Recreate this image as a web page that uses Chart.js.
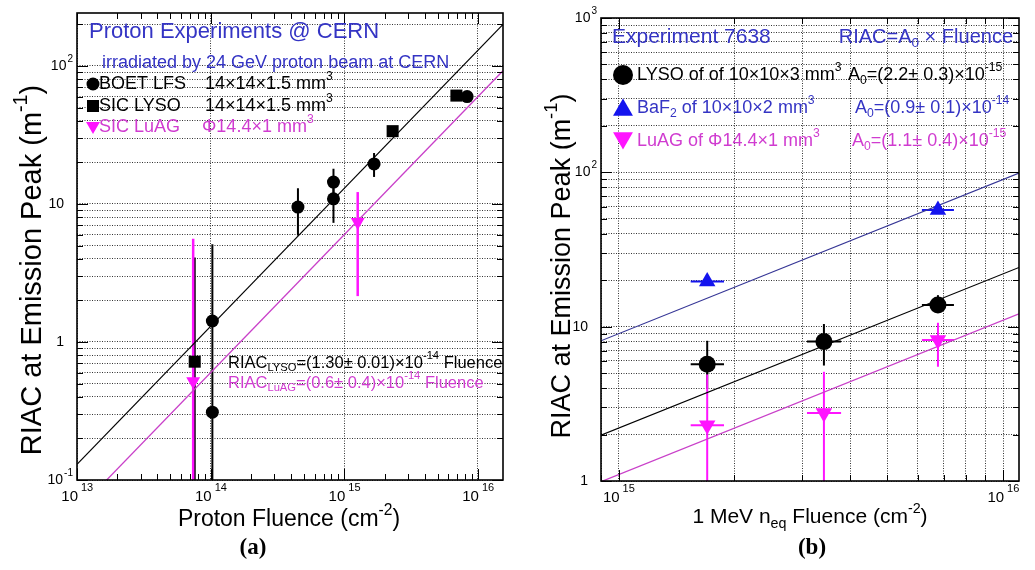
<!DOCTYPE html>
<html><head><meta charset="utf-8">
<script src="https://cdn.jsdelivr.net/npm/chart.js@4/dist/chart.umd.min.js"></script>
<style>
html,body{margin:0;padding:0;background:#fff;}
#wrap{position:relative;width:1035px;height:570px;overflow:hidden;background:#fff;}
canvas{position:absolute;top:0;}
#ca{left:0;} #cb{left:517px;}
</style></head><body>
<div id="wrap"><canvas id="ca" width="517" height="570"></canvas><canvas id="cb" width="518" height="570"></canvas></div>
<script>
// ---------------- Panel (a) data ----------------
const aBoetFluence = [1.03e14, 1.03e14, 4.5e14, 8.3e14, 8.3e14, 1.67e15, 8.3e15];
const aBoetRiac    = [1.42, 0.31, 9.5, 10.9, 14.4, 19.5, 60];
const aBoetLow     = [0.01, 0.31, 5.9, 7.3, 10.9, 15.7, 60];
const aBoetHigh    = [5.1, 0.31, 13.0, 14.4, 18.0, 23.4, 60];
const aLysoFluence = [7.6e13, 2.3e15, 6.9e15];
const aLysoRiac    = [0.72, 33.7, 61];
const aLysoLow     = [0.01, 33.7, 61];
const aLysoHigh    = [4.1, 33.7, 61];
const aLuagFluence = [7.4e13, 1.26e15];
const aLuagRiac    = [0.52, 7.4];
const aLuagLow     = [0.01, 2.15];
const aLuagHigh    = [5.6, 12.2];
const aFitA0Lyso = 1.30e-14;
const aFitA0Luag = 0.6e-14;
const aFitFluence = [1e13, 1.54e16];
const aXRange = [1e13, 1.54e16];
const aYRange = [0.1, 242];
const aXTickValues = [1e13, 1e14, 1e15, 1e16];
const aXTickLabels = [['10','13'], ['10','14'], ['10','15'], ['10','16']];
const aYTickValues = [0.1, 1, 10, 100];
const aYTickLabels = [['10','-1'], ['1',''], ['10',''], ['10','2']];

// ---------------- Panel (b) data ----------------
const bFluence     = [1.7e15, 3.42e15, 6.77e15];
const bFluenceLow  = [1.54e15, 3.09e15, 6.15e15];
const bFluenceHigh = [1.88e15, 3.79e15, 7.45e15];
const bLysoRiac = [5.7, 8.0, 13.8];
const bLysoLow  = [4.0, 5.6, 12.3];
const bLysoHigh = [8.1, 10.4, 16.0];
const bBafFluence     = [1.7e15, 6.77e15];
const bBafFluenceLow  = [1.54e15, 6.15e15];
const bBafFluenceHigh = [1.88e15, 7.45e15];
const bBafRiac = [19.6, 57];
const bLuagRiac = [2.3, 2.76, 8.2];
const bLuagLow  = [0.5, 0.5, 5.5];
const bLuagHigh = [4.9, 5.1, 10.6];
const bFitA0Lyso = 2.2e-15;
const bFitA0Baf  = 0.9e-14;
const bFitA0Luag = 1.1e-15;
const bFitFluence = [9e14, 1.1e16];
const bXRange = [9e14, 1.1e16];
const bYRange = [1, 1000];
const bXTickValues = [1e15, 1e16];
const bXTickLabels = [['10','15'], ['10','16']];
const bYTickValues = [1, 10, 100, 1000];
const bYTickLabels = [['1',''], ['10',''], ['10','2'], ['10','3']];

// ---------------- styling ----------------
const FONT = "'Liberation Sans', Arial, Helvetica, sans-serif";
const BLUE_TEXT = '#3434c4', BLUE_MARK = '#1414ee', BLUE_LINE = '#363696';
const MAG_MARK = '#ff14ff', MAG_TEXT = '#d03cd0', MAG_LINE = '#c940c9';

function decadeTicks(range, majorsOnly) {
  const out = [];
  const d0 = Math.floor(Math.log10(range[0])), d1 = Math.ceil(Math.log10(range[1]));
  for (let d = d0; d <= d1; d++) {
    for (let k = 1; k <= 9; k++) {
      if (majorsOnly && k > 1) continue;
      const v = k * Math.pow(10, d);
      if (v >= range[0] * 0.999 && v <= range[1] * 1.001) out.push({v, major: k === 1});
    }
  }
  return out;
}

function makeAxis(range, gridVals) {
  return {
    type: 'logarithmic', min: range[0], max: range[1],
    afterBuildTicks: ax => { ax.ticks = gridVals.map(v => ({value: v})); },
    afterFit: ax => { if (ax.isHorizontal()) ax.height = 0; else ax.width = 0; },
    ticks: {display: false},
    title: {display: false},
    grid: {display: true, drawTicks: false, color: 'rgba(0,0,0,0.8)', lineWidth: 1},
    border: {display: false, dash: [1, 1.5]}
  };
}

function drawRich(ctx, x, y, parts, size, color, align) {
  ctx.save();
  ctx.fillStyle = color; ctx.textBaseline = 'middle'; ctx.textAlign = 'left';
  const fonts = parts.map(p => (p[1] ? (size * 0.68).toFixed(1) : size) + 'px ' + FONT);
  const widths = parts.map((p, i) => { ctx.font = fonts[i]; return ctx.measureText(p[0]).width; });
  const total = widths.reduce((a, b) => a + b, 0);
  let cx = align === 'center' ? x - total / 2 : align === 'right' ? x - total : x;
  parts.forEach((p, i) => {
    ctx.font = fonts[i];
    const dy = p[1] === 1 ? -size * 0.4 : p[1] === -1 ? size * 0.32 : 0;
    ctx.fillText(p[0], cx, y + dy);
    cx += widths[i];
  });
  ctx.restore();
  return total;
}

function marker(ctx, kind, x, y, r, color) {
  ctx.save(); ctx.fillStyle = color; ctx.beginPath();
  const s = Math.sin(Math.PI / 3) * r;
  if (kind === 'circle') ctx.arc(x, y, r, 0, Math.PI * 2);
  else if (kind === 'square') ctx.rect(x - r, y - r, 2 * r, 2 * r);
  else if (kind === 'up') { ctx.moveTo(x, y - r); ctx.lineTo(x + s, y + r / 2); ctx.lineTo(x - s, y + r / 2); ctx.closePath(); }
  else { ctx.moveTo(x, y + r); ctx.lineTo(x + s, y - r / 2); ctx.lineTo(x - s, y - r / 2); ctx.closePath(); }
  ctx.fill(); ctx.restore();
}

const pts = (xs, ys) => xs.map((x, i) => ({x, y: ys[i]}));

function panelPlugin(cfg) {
  return {
    id: 'panel_' + cfg.name,
    beforeDatasetsDraw(chart) {
      const {ctx, chartArea: ca, scales: {x: xs, y: ys}} = chart;
      ctx.save();
      ctx.beginPath(); ctx.rect(ca.left, ca.top, ca.right - ca.left, ca.bottom - ca.top); ctx.clip();
      cfg.errors.forEach(e => {
        ctx.strokeStyle = e.color; ctx.lineWidth = e.width;
        e.x.forEach((xv, i) => {
          const px = xs.getPixelForValue(xv);
          ctx.beginPath();
          ctx.moveTo(px, ys.getPixelForValue(e.lo[i]));
          ctx.lineTo(px, ys.getPixelForValue(e.hi[i]));
          ctx.stroke();
          if (e.xlo) {
            const py = ys.getPixelForValue(e.y[i]);
            ctx.beginPath();
            ctx.moveTo(xs.getPixelForValue(e.xlo[i]), py);
            ctx.lineTo(xs.getPixelForValue(e.xhi[i]), py);
            ctx.stroke();
          }
        });
      });
      ctx.restore();
    },
    afterDraw(chart) {
      const {ctx, chartArea: ca, scales: {x: xs, y: ys}} = chart;
      ctx.save();
      ctx.strokeStyle = '#000'; ctx.lineWidth = 1;
      decadeTicks(cfg.xRange, false).forEach(t => {
        const px = Math.round(xs.getPixelForValue(t.v)) + 0.5, L = t.major ? 11 : 6;
        ctx.beginPath(); ctx.moveTo(px, ca.bottom); ctx.lineTo(px, ca.bottom - L);
        ctx.moveTo(px, ca.top); ctx.lineTo(px, ca.top + L); ctx.stroke();
      });
      decadeTicks(cfg.yRange, false).forEach(t => {
        const py = Math.round(ys.getPixelForValue(t.v)) + 0.5, L = t.major ? 11 : 6;
        ctx.beginPath(); ctx.moveTo(ca.left, py); ctx.lineTo(ca.left + L, py);
        ctx.moveTo(ca.right, py); ctx.lineTo(ca.right - L, py); ctx.stroke();
      });
      ctx.lineWidth = 1.6;
      ctx.strokeRect(ca.left, ca.top, ca.right - ca.left, ca.bottom - ca.top);
      cfg.xTicks.forEach((v, i) => {
        const px = xs.getPixelForValue(v), lab = cfg.xLabels[i];
        drawRich(ctx, px + 1, ca.bottom + 17, [[lab[0], 0]], 15, '#000', 'right');
        drawRich(ctx, px + 4, ca.bottom + 8, [[lab[1], 0]], 11, '#000', 'left');
      });
      cfg.yTicks.forEach((v, i) => {
        const py = ys.getPixelForValue(v), lab = cfg.yLabels[i];
        if (lab[1]) {
          const sw = drawRich(ctx, ca.left - 4, py - 7, [[lab[1], 0]], 10, '#000', 'right');
          drawRich(ctx, ca.left - 5 - sw, py, [[lab[0], 0]], 14, '#000', 'right');
        } else {
          drawRich(ctx, ca.left - 13, py, [[lab[0], 0]], 14, '#000', 'right');
        }
      });
      ctx.restore();
      cfg.texts(ctx);
    }
  };
}

function baseOptions(pad, xRange, yRange, xGrid, yGrid) {
  return {
    responsive: false, animation: false, events: [],
    layout: {padding: pad, autoPadding: false},
    plugins: {legend: {display: false}, tooltip: {enabled: false}},
    scales: {x: makeAxis(xRange, xGrid), y: makeAxis(yRange, yGrid)}
  };
}

// ---------------- Chart (a) ----------------
new Chart(document.getElementById('ca'), {
  type: 'scatter',
  data: {datasets: [
    {data: pts(aBoetFluence, aBoetRiac), pointStyle: 'circle', pointRadius: 6.5,
     pointBackgroundColor: '#000', pointBorderColor: '#000', pointBorderWidth: 0},
    {data: pts(aLysoFluence, aLysoRiac), pointStyle: 'rect', pointRadius: 8.5,
     pointBackgroundColor: '#000', pointBorderColor: '#000', pointBorderWidth: 0},
    {data: pts(aLuagFluence, aLuagRiac), pointStyle: 'triangle', pointRotation: 180, pointRadius: 8,
     pointBackgroundColor: MAG_MARK, pointBorderColor: MAG_MARK, pointBorderWidth: 0},
    {type: 'line', data: aFitFluence.map(f => ({x: f, y: aFitA0Lyso * f})), borderColor: '#000',
     borderWidth: 1.1, pointRadius: 0, fill: false, tension: 0},
    {type: 'line', data: aFitFluence.map(f => ({x: f, y: aFitA0Luag * f})), borderColor: MAG_LINE,
     borderWidth: 1.3, pointRadius: 0, fill: false, tension: 0}
  ]},
  options: baseOptions({left: 77, top: 13, right: 14, bottom: 90}, aXRange, aYRange,
    decadeTicks(aXRange, true).map(t => t.v), decadeTicks(aYRange, false).map(t => t.v)),
  plugins: [panelPlugin({
    name: 'a', xRange: aXRange, yRange: aYRange,
    xTicks: aXTickValues, xLabels: aXTickLabels, yTicks: aYTickValues, yLabels: aYTickLabels,
    errors: [
      {x: aBoetFluence, lo: aBoetLow, hi: aBoetHigh, color: '#000', width: 2},
      {x: aLysoFluence, lo: aLysoLow, hi: aLysoHigh, color: '#000', width: 2},
      {x: aLuagFluence, lo: aLuagLow, hi: aLuagHigh, color: MAG_MARK, width: 2.5}
    ],
    texts(ctx) {
      drawRich(ctx, 89, 32, [['Proton Experiments @ CERN', 0]], 22, BLUE_TEXT);
      drawRich(ctx, 102, 63, [['irradiated by 24 GeV proton beam at CERN', 0]], 18, BLUE_TEXT);
      marker(ctx, 'circle', 93, 84, 6.5, '#000');
      drawRich(ctx, 99, 84, [['BOET LFS', 0]], 18, '#000');
      drawRich(ctx, 205, 84, [['14×14×1.5 mm', 0], ['3', 1]], 18, '#000');
      marker(ctx, 'square', 93, 106, 6, '#000');
      drawRich(ctx, 99, 106, [['SIC LYSO', 0]], 18, '#000');
      drawRich(ctx, 205, 106, [['14×14×1.5 mm', 0], ['3', 1]], 18, '#000');
      marker(ctx, 'down', 93, 126, 8, MAG_MARK);
      drawRich(ctx, 99, 127, [['SIC LuAG', 0]], 18, MAG_TEXT);
      drawRich(ctx, 202, 127, [['Φ14.4×1 mm', 0], ['3', 1]], 18, MAG_TEXT);
      drawRich(ctx, 228, 363, [['RIAC', 0], ['LYSO', -1], ['=(1.30± 0.01)×10', 0], ['-14', 1], [' Fluence', 0]], 16.5, '#000');
      drawRich(ctx, 228, 383, [['RIAC', 0], ['LuAG', -1], ['=(0.6± 0.4)×10', 0], ['-14', 1], [' Fluence', 0]], 16.5, MAG_TEXT);
      drawRich(ctx, 289, 520, [['Proton Fluence (cm', 0], ['-2', 1], [')', 0]], 23, '#000', 'center');
      ctx.save(); ctx.translate(33, 270); ctx.rotate(-Math.PI / 2);
      drawRich(ctx, 0, 0, [['RIAC at Emission Peak (m', 0], ['-1', 1], [')', 0]], 29, '#000', 'center');
      ctx.restore();
      ctx.save(); ctx.fillStyle = '#000'; ctx.font = "bold 23px 'Liberation Serif', serif";
      ctx.textAlign = 'center'; ctx.textBaseline = 'middle'; ctx.fillText('(a)', 253, 548); ctx.restore();
    }
  })]
});

// ---------------- Chart (b) ----------------
new Chart(document.getElementById('cb'), {
  type: 'scatter',
  data: {datasets: [
    {data: pts(bFluence, bLysoRiac), pointStyle: 'circle', pointRadius: 8.5,
     pointBackgroundColor: '#000', pointBorderColor: '#000', pointBorderWidth: 0},
    {data: pts(bBafFluence, bBafRiac), pointStyle: 'triangle', pointRadius: 9.5,
     pointBackgroundColor: BLUE_MARK, pointBorderColor: BLUE_MARK, pointBorderWidth: 0},
    {data: pts(bFluence, bLuagRiac), pointStyle: 'triangle', pointRotation: 180, pointRadius: 9.5,
     pointBackgroundColor: MAG_MARK, pointBorderColor: MAG_MARK, pointBorderWidth: 0},
    {type: 'line', data: bFitFluence.map(f => ({x: f, y: bFitA0Lyso * f})), borderColor: '#000',
     borderWidth: 1.1, pointRadius: 0, fill: false, tension: 0},
    {type: 'line', data: bFitFluence.map(f => ({x: f, y: bFitA0Baf * f})), borderColor: BLUE_LINE,
     borderWidth: 1.2, pointRadius: 0, fill: false, tension: 0},
    {type: 'line', data: bFitFluence.map(f => ({x: f, y: bFitA0Luag * f})), borderColor: MAG_LINE,
     borderWidth: 1.3, pointRadius: 0, fill: false, tension: 0}
  ]},
  options: baseOptions({left: 84, top: 18, right: 16, bottom: 89}, bXRange, bYRange,
    decadeTicks(bXRange, false).map(t => t.v), decadeTicks(bYRange, false).map(t => t.v)),
  plugins: [panelPlugin({
    name: 'b', xRange: bXRange, yRange: bYRange,
    xTicks: bXTickValues, xLabels: bXTickLabels, yTicks: bYTickValues, yLabels: bYTickLabels,
    errors: [
      {x: bFluence, lo: bLysoLow, hi: bLysoHigh, y: bLysoRiac, xlo: bFluenceLow, xhi: bFluenceHigh, color: '#000', width: 2},
      {x: bBafFluence, lo: bBafRiac, hi: bBafRiac, y: bBafRiac, xlo: bBafFluenceLow, xhi: bBafFluenceHigh, color: BLUE_MARK, width: 2},
      {x: bFluence, lo: bLuagLow, hi: bLuagHigh, y: bLuagRiac, xlo: bFluenceLow, xhi: bFluenceHigh, color: MAG_MARK, width: 2}
    ],
    texts(ctx) {
      drawRich(ctx, 95, 37, [['Experiment 7638', 0]], 21, BLUE_TEXT);
      drawRich(ctx, 496, 37, [['RIAC=A', 0], ['0', -1], [' × Fluence', 0]], 20, BLUE_TEXT, 'right');
      marker(ctx, 'circle', 106, 75, 10, '#000');
      drawRich(ctx, 120, 75, [['LYSO of of 10×10×3 mm', 0], ['3', 1]], 18, '#000');
      drawRich(ctx, 331, 75, [['A', 0], ['0', -1], ['=(2.2± 0.3)×10', 0], ['-15', 1]], 18, '#000');
      marker(ctx, 'up', 106, 110, 11.5, BLUE_MARK);
      drawRich(ctx, 120, 108, [['BaF', 0], ['2', -1], [' of 10×10×2 mm', 0], ['3', 1]], 18, BLUE_TEXT);
      drawRich(ctx, 338, 108, [['A', 0], ['0', -1], ['=(0.9± 0.1)×10', 0], ['-14', 1]], 18, BLUE_TEXT);
      marker(ctx, 'down', 106, 138, 11.5, MAG_MARK);
      drawRich(ctx, 120, 141, [['LuAG of Φ14.4×1 mm', 0], ['3', 1]], 18, MAG_TEXT);
      drawRich(ctx, 335, 141, [['A', 0], ['0', -1], ['=(1.1± 0.4)×10', 0], ['-15', 1]], 18, MAG_TEXT);
      drawRich(ctx, 293, 517, [['1 MeV n', 0], ['eq', -1], [' Fluence (cm', 0], ['-2', 1], [')', 0]], 21, '#000', 'center');
      ctx.save(); ctx.translate(46, 266); ctx.rotate(-Math.PI / 2);
      drawRich(ctx, 0, 0, [['RIAC at Emission Peak (m', 0], ['-1', 1], [')', 0]], 27, '#000', 'center');
      ctx.restore();
      ctx.save(); ctx.fillStyle = '#000'; ctx.font = "bold 23px 'Liberation Serif', serif";
      ctx.textAlign = 'center'; ctx.textBaseline = 'middle'; ctx.fillText('(b)', 295, 548); ctx.restore();
    }
  })]
});
</script>
</body></html>
